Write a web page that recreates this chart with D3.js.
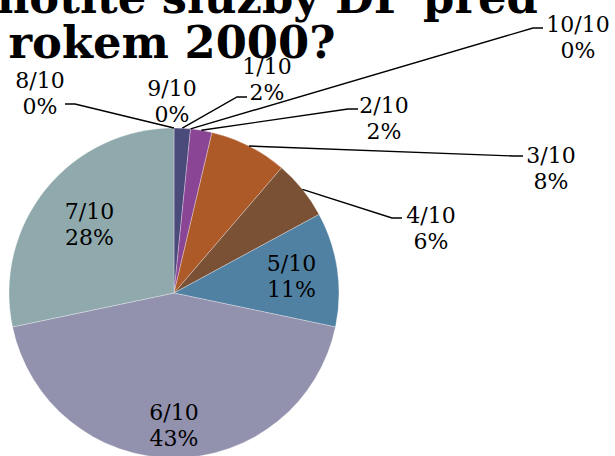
<!DOCTYPE html>
<html>
<head>
<meta charset="utf-8">
<script src="https://cdn.jsdelivr.net/npm/d3@7"></script>
<style>
  body { margin: 0; background: #fff; }
  svg { display: block; }
</style>
</head>
<body>
<svg width="615" height="456"></svg>
<script>
// categories in the order Excel had them (text sort)
var categories = ["1/10", "10/10", "2/10", "3/10", "4/10", "5/10", "6/10", "7/10", "8/10", "9/10"];
var values = [1.6, 0, 2.1, 7.6, 5.8, 11.2, 43.4, 28.3, 0, 0];
var colors = ["#4a4a7b", "#3d6f9a", "#8b4595", "#ad5a28", "#7a5135", "#5081a3", "#9392ae", "#8fa9ac", "#6f8fa0", "#b07040"];
var titleLines = ["Jak hodnotíte služby DP před", "rokem 2000?"];

// where Excel put the outside labels (block centre, leader attach point)
var outside = {
    "1/10":  { x: 267, y: 66,  ax: 247, ay: 97,  side: 1 },
    "10/10": { x: 578, y: 24,  ax: 543, ay: 28,  side: 1 },
    "2/10":  { x: 384, y: 105, ax: 358, ay: 109, side: 1 },
    "3/10":  { x: 551, y: 155, ax: 523, ay: 156, side: 1 },
    "4/10":  { x: 431, y: 215, ax: 402, ay: 218, side: 1 },
    "8/10":  { x: 40,  y: 80,  ax: 65,  ay: 104, side: -1 },
    "9/10":  { x: 172, y: 88 }
};
var insideR = { "5/10": 0.72, "6/10": 0.8, "7/10": 0.66 };

var cx = 174, cy = 293, radius = 165;
var font = "Georgia, 'DejaVu Serif', serif";

var svg = d3.select("svg");

var data = categories.map((c, i) => ({ name: c, value: values[i], color: colors[i] }));

var pie = d3.pie()
    .sort(null)
    .value(d => d.value);

var arcs = pie(data);

var arc = d3.arc()
    .innerRadius(0)
    .outerRadius(radius);

var edge = d3.arc()
    .innerRadius(radius)
    .outerRadius(radius);

var g = svg.append("g")
    .attr("transform", "translate(" + cx + "," + cy + ")");

g.selectAll("path.slice")
    .data(arcs.filter(d => d.data.value > 0))
    .enter().append("path")
    .attr("class", "slice")
    .attr("d", arc)
    .attr("fill", d => d.data.color)
    .attr("stroke", "#ffffff")
    .attr("stroke-opacity", 0.5)
    .attr("stroke-width", 0.6);

function pct(v) { return Math.round(v) + "%"; }

// leader lines
var lines = svg.append("g");
arcs.forEach(function(d) {
    var o = outside[d.data.name];
    if (!o || o.ax === undefined) return;
    var p = edge.centroid(d);
    var sx = cx + p[0], sy = cy + p[1];
    var ex = o.ax - o.side * 10;
    lines.append("path")
        .attr("d", d3.line()([[sx, sy], [ex, o.ay], [o.ax, o.ay]]))
        .attr("fill", "none")
        .attr("stroke", "#000")
        .attr("stroke-width", 1.4);
});

// labels
var labels = svg.append("g")
    .attr("font-family", font)
    .attr("font-size", 22)
    .attr("fill", "#000")
    .attr("text-anchor", "middle");

arcs.forEach(function(d) {
    var name = d.data.name, x, y;
    if (outside[name]) {
        x = outside[name].x;
        y = outside[name].y;
    } else {
        var k = insideR[name] || 0.7;
        var c = d3.arc().innerRadius(radius * k).outerRadius(radius * k).centroid(d);
        x = cx + c[0];
        y = cy + c[1] - 13;
    }
    var t = labels.append("text")
        .attr("x", x)
        .attr("y", y)
        .attr("dy", "0.35em");
    t.append("tspan").attr("x", x).text(name);
    t.append("tspan").attr("x", x).attr("dy", 26).text(pct(d.data.value));
});

// title, partly cut off at the top like the source
var title = svg.append("g")
    .attr("font-family", font)
    .attr("font-weight", "bold")
    .attr("text-anchor", "middle")
    .attr("fill", "#000");

var probe = title.append("text").attr("font-size", 44).text(titleLines[1]);
var w = probe.node().getComputedTextLength();
var size = 44 * 327 / w;
probe.remove();

title.selectAll("text.t")
    .data(titleLines)
    .enter().append("text")
    .attr("class", "t")
    .attr("x", 172)
    .attr("y", (d, i) => 13 + i * 45)
    .attr("font-size", size)
    .text(d => d);
</script>
</body>
</html>
